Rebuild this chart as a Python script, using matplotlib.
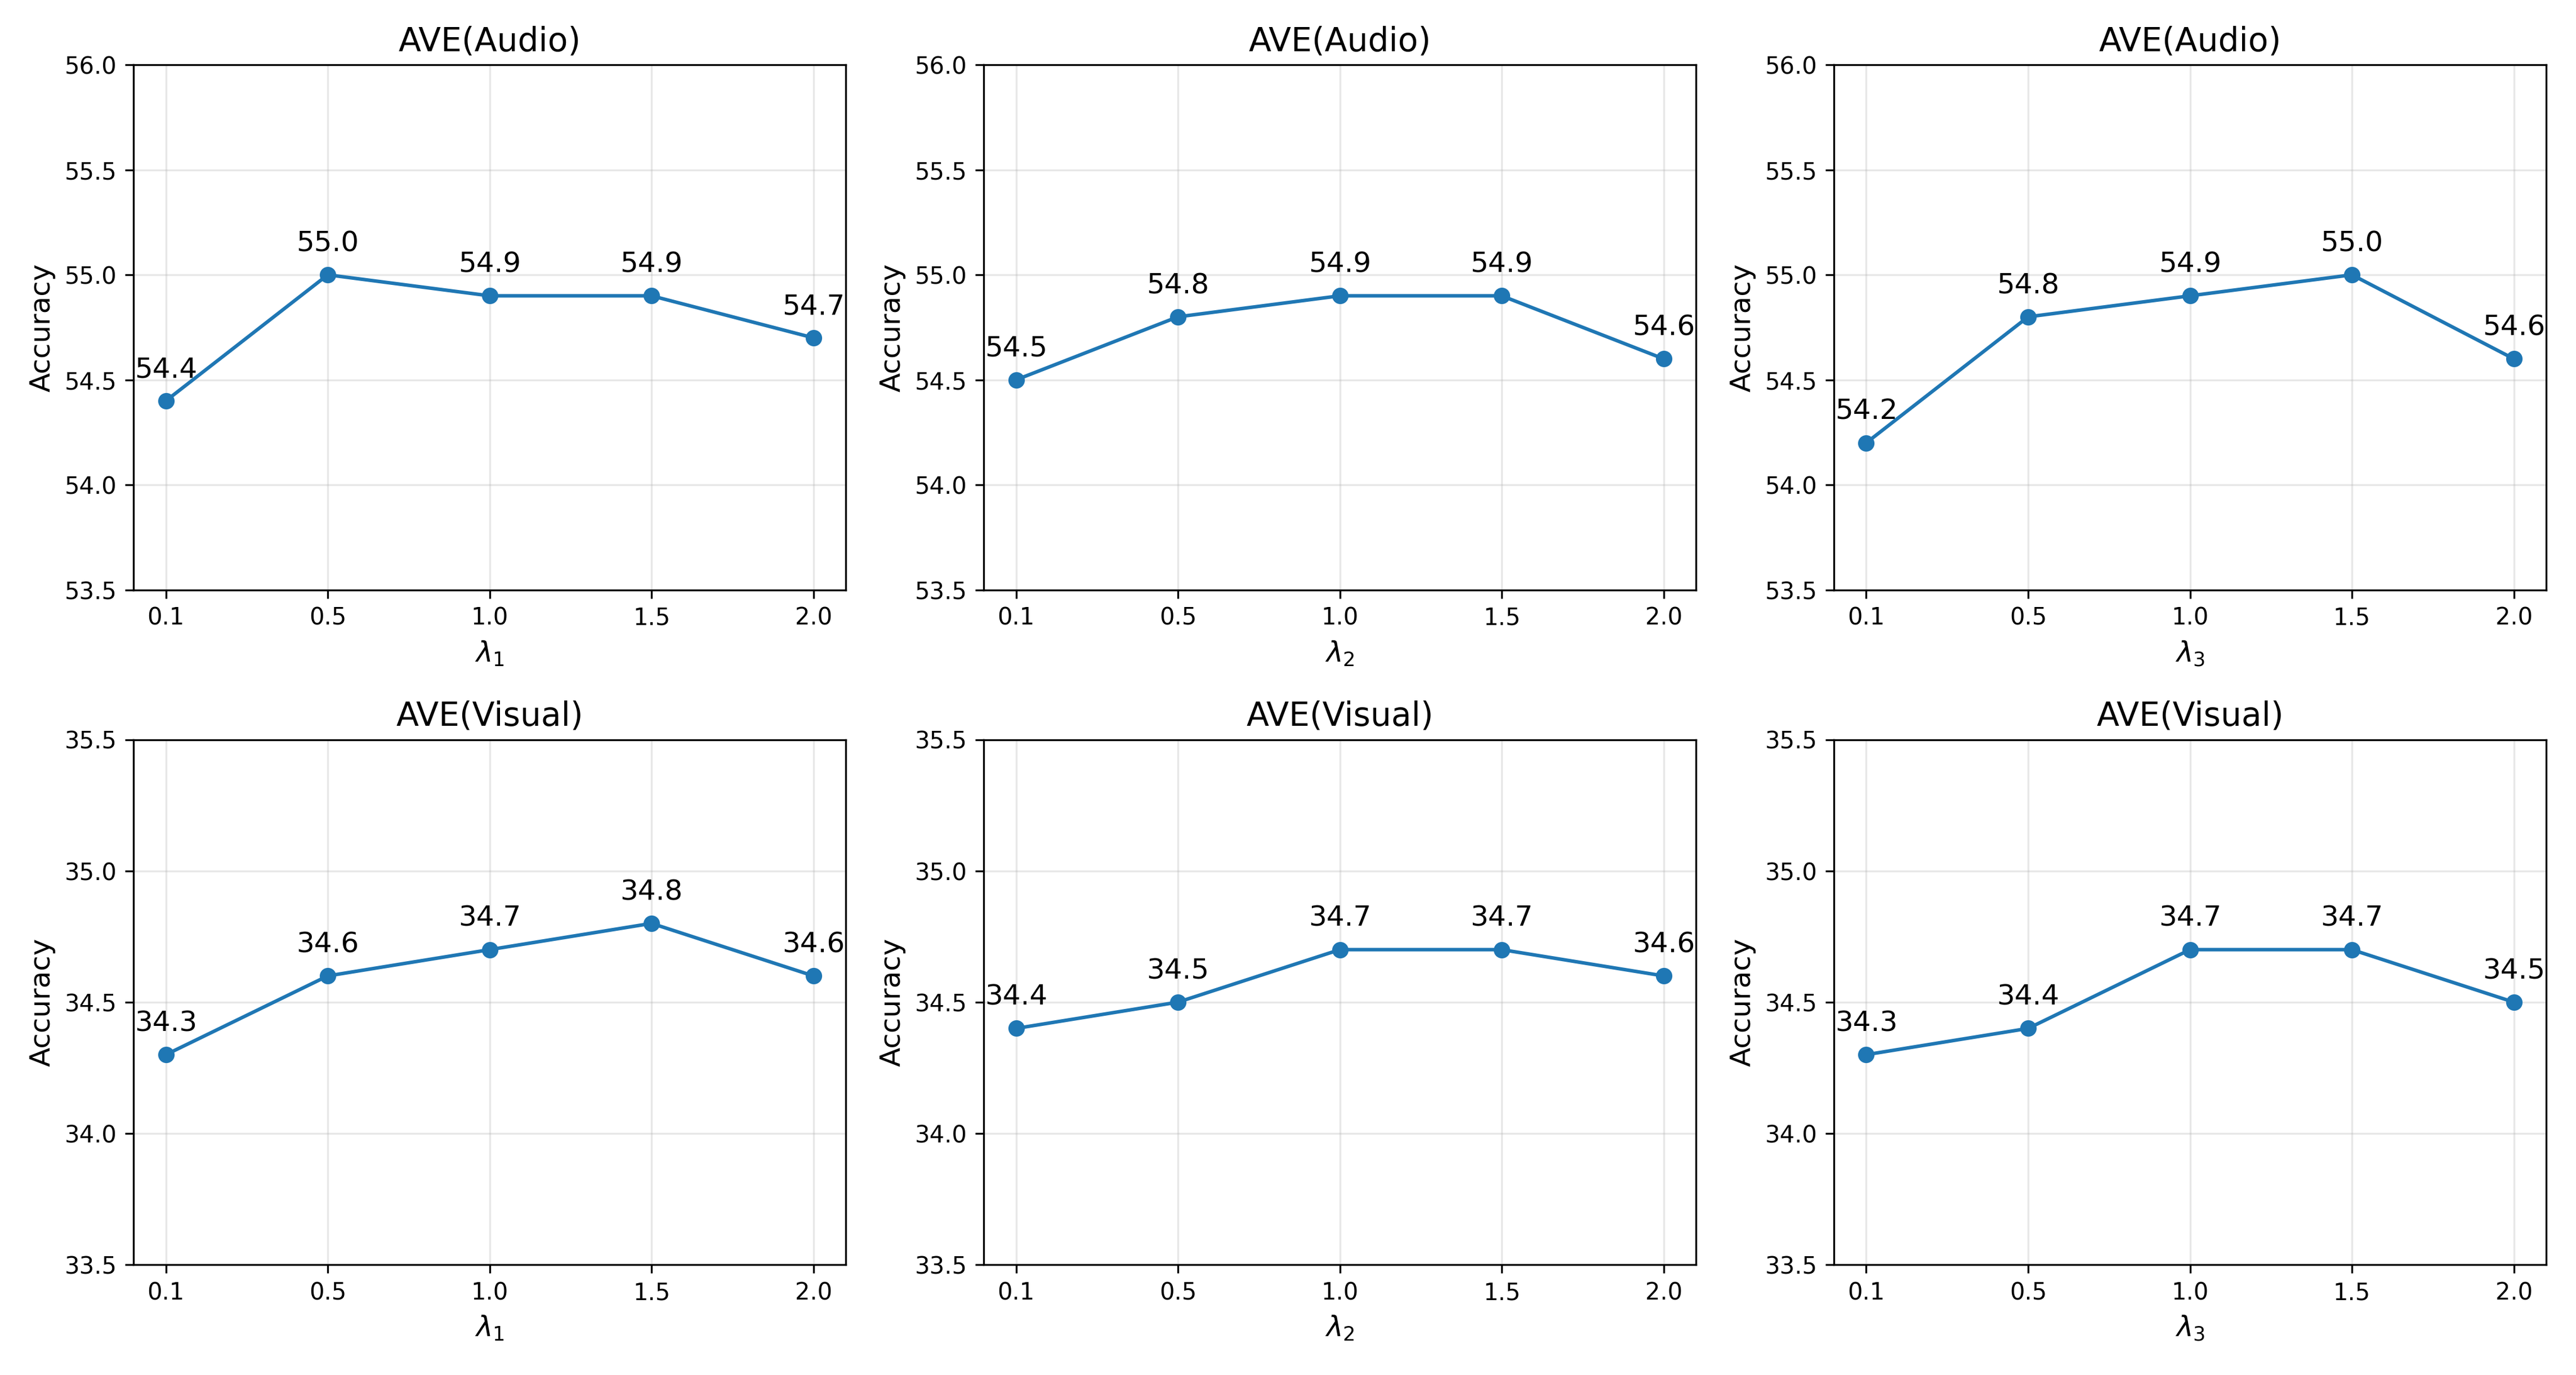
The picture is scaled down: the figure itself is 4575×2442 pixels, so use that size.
import matplotlib
matplotlib.use("Agg")
import matplotlib.pyplot as plt
import numpy as np

# lambda values (categorical x axis)
lambdas = ['0.1', '0.5', '1.0', '1.5', '2.0']

audio_l1 = [54.4, 55.0, 54.9, 54.9, 54.7]
audio_l2 = [54.5, 54.8, 54.9, 54.9, 54.6]
audio_l3 = [54.2, 54.8, 54.9, 55.0, 54.6]

visual_l1 = [34.3, 34.6, 34.7, 34.8, 34.6]
visual_l2 = [34.4, 34.5, 34.7, 34.7, 34.6]
visual_l3 = [34.3, 34.4, 34.7, 34.7, 34.5]

titles = ['AVE(Audio)', 'AVE(Visual)']
xlabels = [r'$\lambda_1$', r'$\lambda_2$', r'$\lambda_3$']
ylims = [(53.5, 56.0), (33.5, 35.5)]

rows = [[audio_l1, audio_l2, audio_l3], [visual_l1, visual_l2, visual_l3]]

fig, axes = plt.subplots(2, 3, figsize=(15.25, 8.14))
x = np.arange(len(lambdas))

for r in range(2):
    for c in range(3):
        ax = axes[r, c]
        vals = rows[r][c]
        ax.plot(x, vals, marker='o', color='#1f77b4')
        for xi, v in zip(x, vals):
            ax.annotate(f'{v:.1f}', (xi, v), textcoords='offset points',
                        xytext=(0, 10), ha='center', fontsize=12)
        ax.set_xticks(x)
        ax.set_xticklabels(lambdas)
        lo, hi = ylims[r]
        ax.set_ylim(lo, hi)
        ax.set_yticks(np.arange(lo, hi + 0.01, 0.5))
        ax.set_title(titles[r], fontsize=14)
        ax.set_xlabel(xlabels[c], fontsize=12)
        ax.set_ylabel('Accuracy', fontsize=12)
        ax.grid(True, alpha=0.3)

plt.tight_layout()
plt.savefig('out.png', dpi=300)
